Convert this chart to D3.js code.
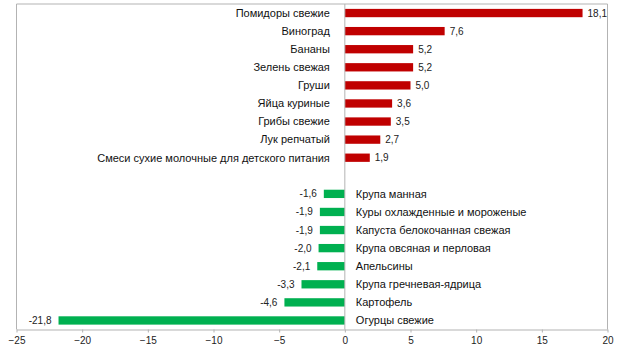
<!DOCTYPE html>
<html><head><meta charset="utf-8">
<script src="https://cdn.jsdelivr.net/npm/d3@7"></script>
<style>body{margin:0;background:#fff}svg{display:block;font-family:"Liberation Sans",Arial,sans-serif}</style>
</head><body><svg id="c" width="635" height="357"></svg>
<script>
const categories = ["Помидоры свежие","Виноград","Бананы","Зелень свежая","Груши","Яйца куриные","Грибы свежие","Лук репчатый","Смеси сухие молочные для детского питания","",
"Крупа манная","Куры охлажденные и мороженые","Капуста белокочанная свежая","Крупа овсяная и перловая","Апельсины","Крупа гречневая-ядрица","Картофель","Огурцы свежие"];
const values = [18.1,7.6,5.2,5.2,5.0,3.6,3.5,2.7,1.9,null,-1.6,-1.9,-1.9,-2.0,-2.1,-3.3,-4.6,-21.8];
const xTicks = [-25,-20,-15,-10,-5,0,5,10,15,20];

const svg = d3.select("#c");
const L=16.5, R=607.5, T=4, B=329.5;
const x = d3.scaleLinear().domain([-25,20]).range([L,R]);
const y = d3.scaleBand().domain(d3.range(categories.length)).range([T,B]).paddingInner(0.54).paddingOuter(0.27);
const fmt = v => v.toFixed(1).replace(".",",");

// frame
svg.append("path").attr("d",`M${L},${B}V${T}H${R}V${B}`).attr("fill","none").attr("stroke","#b3b3b3").attr("stroke-width",1);

// bars
const data = values.map((v,i)=>({v,i,c:categories[i]})).filter(d=>d.v!==null);
svg.selectAll("rect.bar").data(data).join("rect")
  .attr("x",d=>x(Math.min(0,d.v))).attr("width",d=>Math.abs(x(d.v)-x(0)))
  .attr("y",d=>y(d.i)).attr("height",y.bandwidth())
  .attr("fill",d=>d.v>0?"#c00000":"#00b050");

// zero line
svg.append("line").attr("x1",x(0)).attr("x2",x(0)).attr("y1",T).attr("y2",B).attr("stroke","#b3b3b3");

// axis
const ax = svg.append("g").attr("transform",`translate(0,${B})`).call(d3.axisBottom(x).tickValues(xTicks).tickSize(3).tickSizeOuter(0).tickPadding(4));
ax.select(".domain").attr("stroke","#b3b3b3");
ax.selectAll(".tick line").attr("stroke","#b3b3b3");
ax.selectAll("text").attr("font-size",10).attr("fill","#222").attr("font-family","Liberation Sans, Arial, sans-serif");

// value labels
svg.selectAll("text.val").data(data).join("text")
  .attr("x",d=>d.v>0?x(d.v)+5:x(d.v)-7)
  .attr("y",d=>y(d.i)+y.bandwidth()/2).attr("dy","0.35em")
  .attr("text-anchor",d=>d.v>0?"start":"end")
  .attr("font-size",10).attr("fill","#222").text(d=>fmt(d.v));

// category labels
svg.selectAll("text.cat").data(data).join("text")
  .attr("x",d=>d.v>0?x(0)-15:x(0)+11)
  .attr("y",d=>y(d.i)+y.bandwidth()/2).attr("dy","0.35em")
  .attr("text-anchor",d=>d.v>0?"end":"start")
  .attr("font-size",11).attr("fill","#111").text(d=>d.c);
</script></body></html>
